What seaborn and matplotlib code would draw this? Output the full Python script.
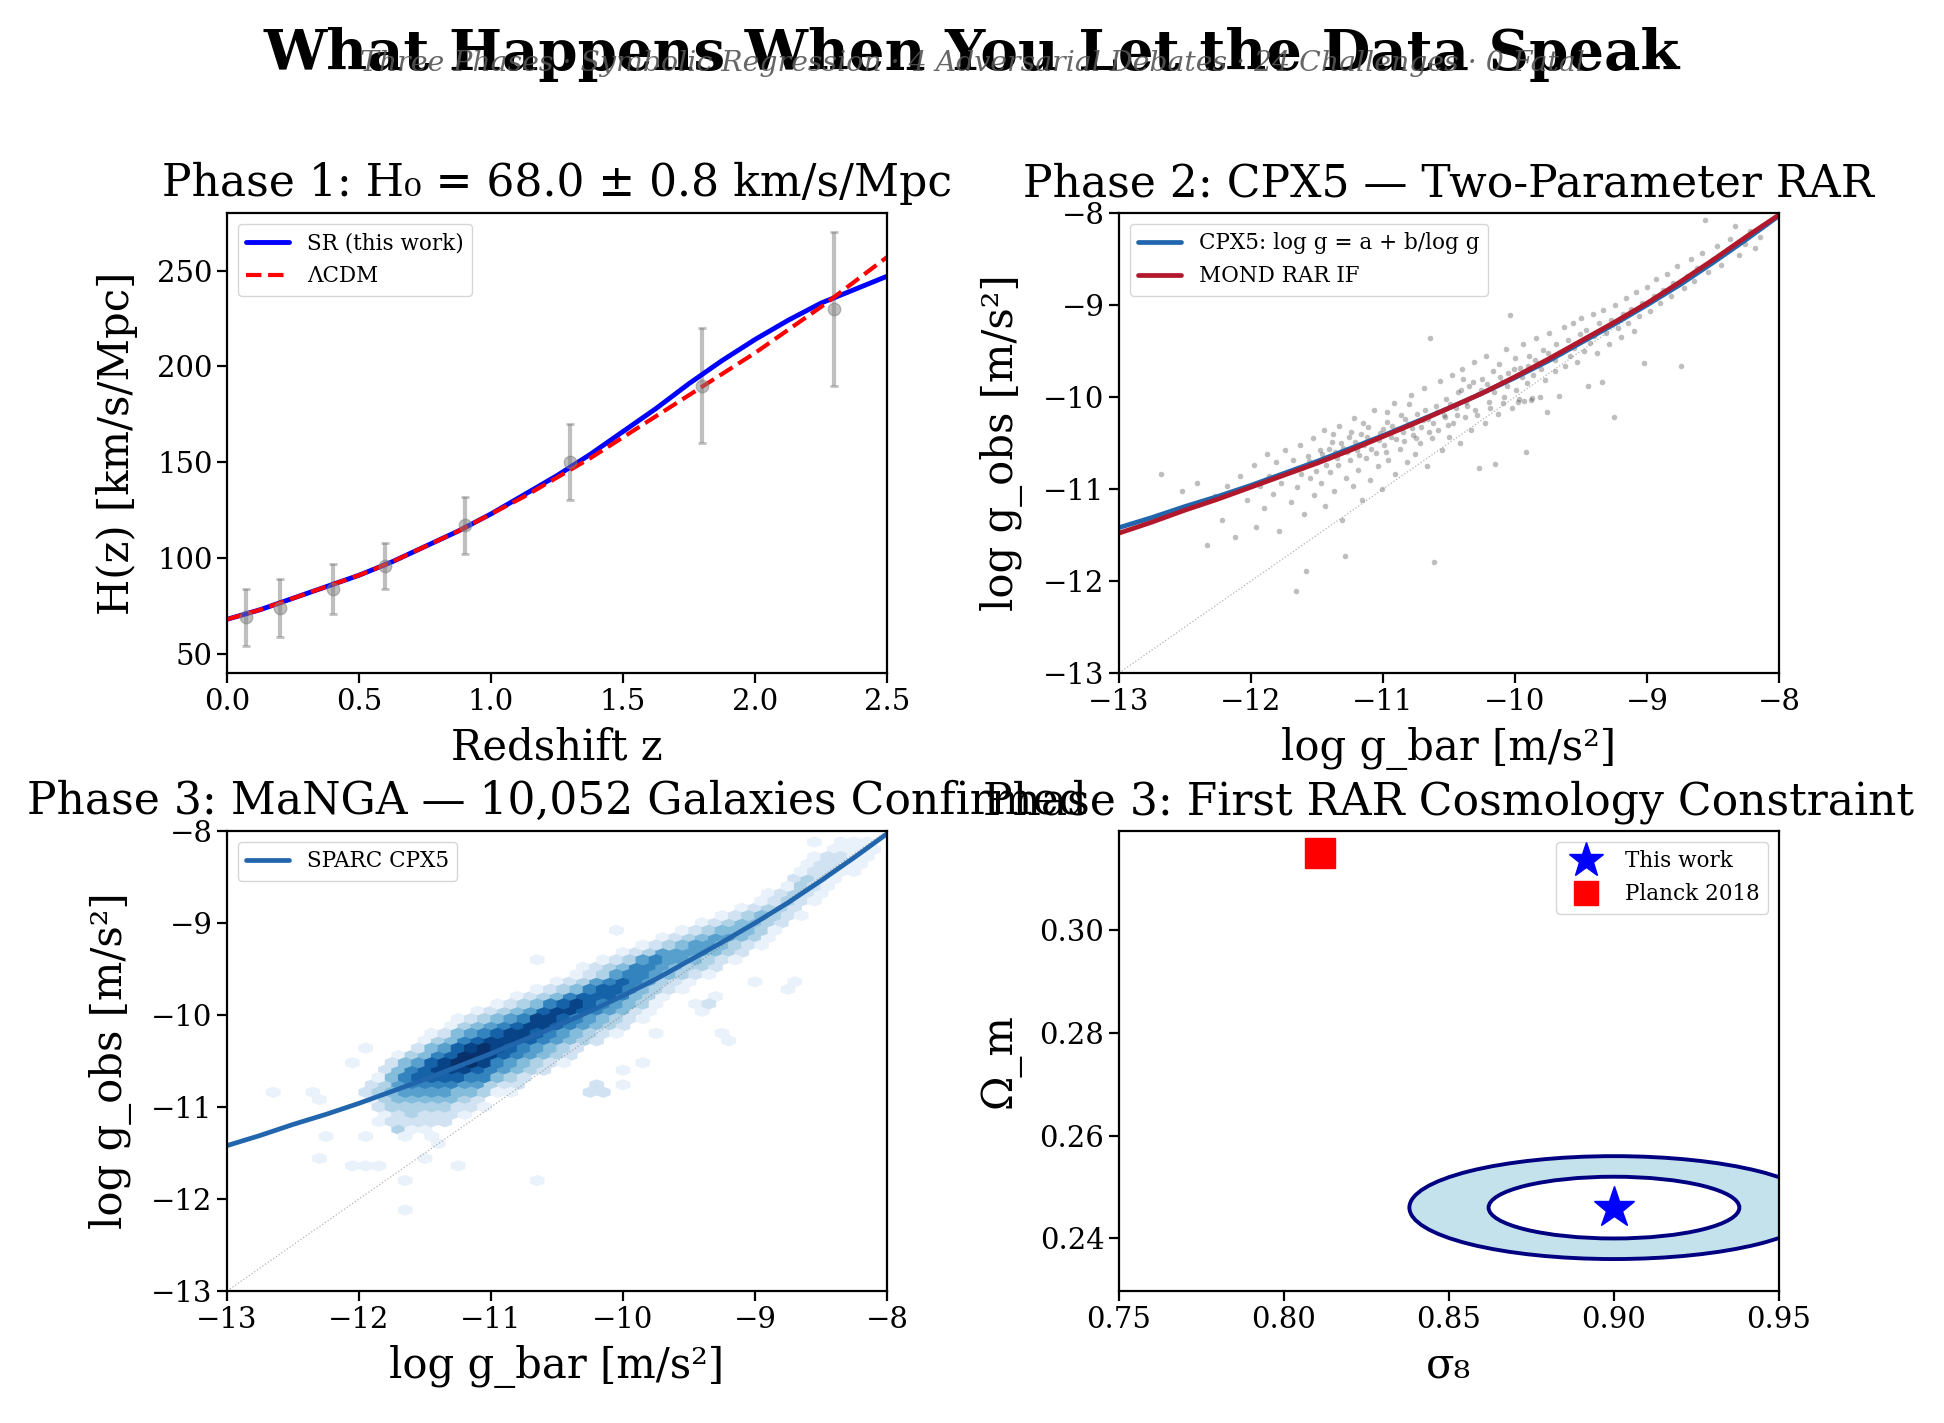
import numpy as np
import seaborn as sns
import matplotlib.pyplot as plt
from matplotlib.patches import Ellipse

# ---------- data ----------
# Phase 1: cosmic chronometer points and the two H(z) curves
hz_z = [0.07, 0.2, 0.4, 0.6, 0.9, 1.3, 1.8, 2.3]
hz_val = [69, 74, 84, 96, 117, 150, 190, 230]
hz_err = [15, 15, 13, 12, 15, 20, 30, 40]

curve_z = [0, 0.125, 0.25, 0.375, 0.5, 0.625, 0.75, 0.875, 1.0, 1.125, 1.25,
           1.375, 1.5, 1.625, 1.75, 1.875, 2.0, 2.125, 2.25, 2.375, 2.5]
sr_h = [68, 73, 79, 85, 91, 98, 106, 114, 123, 133, 143,
        154, 166, 178, 191, 203, 214, 224, 233, 240, 247]
lcdm_h = [68, 73, 79, 85, 91, 98, 106, 114, 123, 132, 142,
          152, 163, 174, 185, 196, 207, 219, 231, 244, 257]

# Phase 2: RAR curves
gbar_grid = [-13, -12.75, -12.5, -12.25, -12, -11.75, -11.5, -11.25, -11, -10.75, -10.5,
             -10.25, -10, -9.75, -9.5, -9.25, -9, -8.75, -8.5, -8.25, -8]
cpx5_gobs = [-11.42, -11.31, -11.19, -11.08, -10.96, -10.83, -10.70, -10.56, -10.42, -10.27, -10.12,
             -9.96, -9.79, -9.61, -9.41, -9.21, -9.00, -8.78, -8.54, -8.29, -8.03]
mond_gobs = [-11.48, -11.36, -11.23, -11.11, -10.98, -10.85, -10.72, -10.58, -10.43, -10.28, -10.12,
             -9.96, -9.78, -9.59, -9.39, -9.19, -8.98, -8.75, -8.51, -8.26, -8.02]

# SPARC points (approximate positions of the grey cloud)
sparc_points = [
    (-12.68, -10.84), (-12.52, -11.02), (-12.41, -10.93), (-12.33, -11.61), (-12.27, -11.08),
    (-12.22, -11.34), (-12.18, -10.97), (-12.12, -11.52), (-12.08, -10.86), (-12.03, -11.12),
    (-11.98, -10.74), (-11.96, -11.41), (-11.93, -10.97), (-11.90, -11.21), (-11.88, -10.62),
    (-11.86, -10.86), (-11.83, -11.05), (-11.81, -10.71), (-11.79, -11.46), (-11.77, -10.93),
    (-11.74, -10.58), (-11.72, -10.81), (-11.70, -11.14), (-11.68, -10.69), (-11.66, -12.11),
    (-11.65, -10.98), (-11.63, -10.52), (-11.61, -10.77), (-11.60, -11.27), (-11.58, -11.89),
    (-11.57, -10.64), (-11.55, -10.88), (-11.53, -10.45), (-11.52, -11.06), (-11.50, -10.71),
    (-11.48, -10.58), (-11.47, -10.93), (-11.45, -10.36), (-11.44, -11.18), (-11.42, -10.66),
    (-11.40, -10.82), (-11.39, -10.49), (-11.37, -11.02), (-11.36, -10.60), (-11.34, -10.74),
    (-11.33, -10.31), (-11.31, -11.34), (-11.30, -10.55), (-11.29, -11.73), (-11.28, -10.88),
    (-11.26, -10.44), (-11.25, -10.68), (-11.23, -10.97), (-11.22, -10.23), (-11.20, -10.58),
    (-11.19, -10.79), (-11.17, -10.40), (-11.16, -11.12), (-11.14, -10.52), (-11.13, -10.66),
    (-11.11, -10.33), (-11.10, -10.90), (-11.08, -10.47), (-11.07, -10.14), (-11.05, -10.61),
    (-11.04, -10.75), (-11.02, -10.39), (-11.01, -11.00), (-10.99, -10.52), (-10.97, -10.27),
    (-10.96, -10.68), (-10.94, -10.43), (-10.92, -10.06), (-10.91, -10.84), (-10.89, -10.35),
    (-10.87, -10.57), (-10.86, -10.20), (-10.84, -10.48), (-10.82, -10.71), (-10.81, -10.29),
    (-10.79, -9.98), (-10.77, -10.41), (-10.76, -10.62), (-10.74, -10.18), (-10.72, -10.50),
    (-10.71, -10.33), (-10.69, -9.90), (-10.67, -10.75), (-10.66, -10.24), (-10.64, -9.36),
    (-10.63, -10.45), (-10.61, -11.79), (-10.60, -10.10), (-10.58, -10.36), (-10.57, -9.83),
    (-10.55, -10.58), (-10.54, -10.20), (-10.52, -10.02), (-10.50, -10.43), (-10.48, -9.76),
    (-10.47, -10.28), (-10.45, -10.12), (-10.43, -9.95), (-10.42, -10.50), (-10.40, -9.70),
    (-10.38, -10.22), (-10.37, -10.05), (-10.35, -9.88), (-10.33, -10.36), (-10.31, -9.62),
    (-10.30, -10.14), (-10.28, -9.97), (-10.27, -10.77), (-10.25, -9.80), (-10.23, -10.28),
    (-10.22, -9.55), (-10.20, -10.05), (-10.18, -9.90), (-10.17, -9.72), (-10.15, -10.73),
    (-10.13, -10.18), (-10.12, -9.64), (-10.10, -9.84), (-10.08, -10.00), (-10.07, -9.48),
    (-10.05, -9.74), (-10.04, -9.11), (-10.02, -10.12), (-10.00, -9.58), (-9.99, -9.92),
    (-9.97, -10.02), (-9.96, -9.68), (-9.94, -9.42), (-9.92, -10.60), (-9.91, -9.85),
    (-9.89, -9.55), (-9.87, -10.01), (-9.86, -9.76), (-9.84, -9.36), (-9.82, -9.63),
    (-9.81, -10.00), (-9.79, -9.49), (-9.77, -9.82), (-9.76, -10.16), (-9.74, -9.30),
    (-9.72, -9.58), (-9.70, -9.72), (-9.69, -9.42), (-9.67, -9.99), (-9.65, -9.52),
    (-9.63, -9.24), (-9.62, -9.66), (-9.60, -9.38), (-9.58, -9.55), (-9.56, -9.20),
    (-9.55, -9.47), (-9.53, -9.62), (-9.51, -9.32), (-9.50, -9.14), (-9.48, -9.50),
    (-9.46, -9.27), (-9.45, -9.88), (-9.43, -9.41), (-9.41, -9.10), (-9.40, -9.34),
    (-9.38, -9.52), (-9.36, -9.20), (-9.34, -9.84), (-9.33, -9.05), (-9.31, -9.30),
    (-9.29, -9.42), (-9.27, -9.16), (-9.25, -10.22), (-9.24, -9.00), (-9.22, -9.25),
    (-9.20, -9.35), (-9.18, -9.10), (-9.16, -8.92), (-9.14, -9.20), (-9.12, -9.04),
    (-9.10, -9.28), (-9.08, -8.86), (-9.06, -9.12), (-9.04, -8.98), (-9.02, -9.63),
    (-9.00, -8.80), (-8.98, -9.06), (-8.95, -8.90), (-8.93, -8.72), (-8.90, -8.98),
    (-8.88, -8.84), (-8.85, -8.66), (-8.82, -8.90), (-8.80, -8.76), (-8.77, -8.58),
    (-8.74, -9.66), (-8.72, -8.82), (-8.70, -8.68), (-8.67, -8.50), (-8.64, -8.74),
    (-8.62, -8.60), (-8.58, -8.44), (-8.56, -8.08), (-8.54, -8.64), (-8.50, -8.50),
    (-8.47, -8.36), (-8.44, -8.56), (-8.40, -8.42), (-8.37, -8.28), (-8.33, -8.14),
    (-8.30, -8.46), (-8.26, -8.34), (-8.22, -8.20), (-8.18, -8.38), (-8.14, -8.26),
    (-8.10, -8.12),
    (-11.46, -10.62), (-11.41, -10.57), (-11.35, -10.66), (-11.32, -10.50), (-11.27, -10.60),
    (-11.21, -10.49), (-11.18, -10.63), (-11.12, -10.44), (-11.09, -10.56), (-11.03, -10.47),
    (-11.00, -10.35), (-10.98, -10.60), (-10.93, -10.32), (-10.90, -10.46), (-10.85, -10.38),
    (-10.83, -10.24), (-10.78, -10.34), (-10.75, -10.45), (-10.70, -10.25), (-10.68, -10.14),
    (-10.62, -10.28), (-10.59, -10.16), (-10.53, -10.22), (-10.49, -10.08), (-10.44, -10.20),
    (-10.41, -9.92), (-10.36, -10.10), (-10.32, -9.84), (-10.26, -9.92), (-10.21, -9.86),
    (-10.16, -9.95), (-10.11, -9.78), (-10.06, -9.88), (-10.01, -9.70), (-9.95, -9.78),
    (-9.90, -9.66), (-9.85, -9.60), (-9.80, -9.70), (-9.75, -9.52), (-9.70, -9.60),
    (-11.56, -10.70), (-11.62, -10.84), (-11.51, -10.80), (-11.43, -10.74), (-11.38, -10.40),
    (-11.24, -10.38), (-11.15, -10.28), (-10.97, -10.16), (-10.80, -10.08), (-10.65, -10.38),
    (-10.51, -10.30), (-10.39, -9.80), (-10.29, -10.20), (-10.19, -10.12), (-10.09, -10.06),
    (-9.98, -10.05), (-9.93, -10.04), (-9.88, -10.03),
]

# Phase 3: MaNGA hexbin cells -> (column x, top cell y, shade level per cell going down, '.' = empty)
manga_columns = [
    (-12.65, -10.84, "1"), (-12.35, -10.84, "1"), (-12.30, -10.92, "1...1"),
    (-12.25, -11.32, "1"), (-12.05, -10.52, "1......1"), (-11.95, -10.36, "1..2..1.1"),
    (-11.90, -10.76, "21"), (-11.85, -10.68, "1321..1"), (-11.80, -10.60, "2331"),
    (-11.75, -10.52, "24432"), (-11.70, -10.44, "145423"), (-11.65, -10.52, "465321..1.1"),
    (-11.60, -10.44, "366431"), (-11.55, -10.36, "257532"), (-11.50, -10.28, "1476421.1"),
    (-11.45, -10.20, "14775321"), (-11.40, -10.28, "368642.1"), (-11.35, -10.20, "2587532"),
    (-11.30, -10.12, "1478642"), (-11.25, -10.04, "1479742...1"), (-11.20, -10.12, "3698531"),
    (-11.15, -10.04, "2589642"), (-11.10, -9.96, "1479752"), (-11.05, -10.04, "3698631"),
    (-11.00, -9.96, "258863"), (-10.95, -9.88, "1478641"), (-10.90, -9.96, "368752"),
    (-10.85, -9.88, "2587531"), (-10.80, -9.80, "1478642"), (-10.75, -9.88, "368642"),
    (-10.70, -9.80, "258753"), (-10.65, -9.40, "1.148753.......1"), (-10.60, -9.80, "378642"),
    (-10.55, -9.72, "268642"), (-10.50, -9.64, "148753"), (-10.45, -9.72, "377531"),
    (-10.40, -9.64, "268642"), (-10.35, -9.56, "148642"), (-10.30, -9.48, "137753"),
    (-10.25, -9.56, "26753...2"), (-10.20, -9.48, "257642..2"), (-10.15, -9.40, "137642...2"),
    (-10.10, -9.48, "36753"), (-10.05, -9.08, "1.257531"), (-10.00, -9.32, "147642..11"),
    (-9.95, -9.40, "36642"), (-9.90, -9.32, "26642"), (-9.85, -9.24, "156431..1"),
    (-9.80, -9.32, "36531"), (-9.75, -9.24, "26531.1"), (-9.70, -9.16, "15531"),
    (-9.65, -9.24, "3542"), (-9.60, -9.16, "2542"), (-9.55, -9.08, "14531"),
    (-9.50, -9.16, "3531"), (-9.45, -9.08, "2542.1"), (-9.40, -9.00, "1453..1"),
    (-9.35, -9.08, "3531.2"), (-9.30, -9.00, "2542.1"), (-9.25, -8.92, "1442....1"),
    (-9.20, -9.00, "353.....1"), (-9.15, -8.92, "2431"), (-9.10, -8.84, "1442"),
    (-9.05, -8.92, "342"), (-9.00, -8.84, "243..1"), (-8.95, -8.76, "1431"),
    (-8.90, -8.68, "1331"), (-8.85, -8.76, "231"), (-8.80, -8.68, "232"),
    (-8.75, -8.60, "132....1"), (-8.70, -8.52, "232....1"), (-8.65, -8.44, "1321"),
    (-8.60, -8.36, "132"), (-8.55, -8.12, "11221"), (-8.50, -8.36, "221"),
    (-8.45, -8.28, "221"), (-8.40, -8.20, "121"), (-8.35, -8.12, "121"),
    (-8.30, -8.20, "11"), (-8.25, -8.12, "111"), (-8.20, -8.20, "11"),
    (-8.15, -8.12, "11"), (-8.10, -8.20, "1"),
]

# Phase 3b: cosmology constraint
this_work = (0.90, 0.246)
planck = (0.811, 0.315)
ellipse_1sig = (0.076, 0.012)   # full width, full height
ellipse_2sig = (0.124, 0.020)

# ---------- style ----------
sns.set_style("ticks")
plt.rcParams['font.family'] = ['DejaVu Serif', 'DejaVu Sans']
plt.rcParams['axes.unicode_minus'] = True
plt.rcParams['axes.linewidth'] = 1.6
plt.rcParams['text.color'] = 'black'
plt.rcParams['axes.labelcolor'] = 'black'
plt.rcParams['axes.edgecolor'] = 'black'
for ax_name in ('xtick', 'ytick'):
    plt.rcParams[f'{ax_name}.major.size'] = 7
    plt.rcParams[f'{ax_name}.major.width'] = 1.6
    plt.rcParams[f'{ax_name}.labelsize'] = 21
    plt.rcParams[f'{ax_name}.color'] = 'black'
    plt.rcParams[f'{ax_name}.labelcolor'] = 'black'

TITLE_FS = 31.7
LABEL_FS = 30
LEG_FS = 15.5
TITLE_PAD = 12

fig, axes = plt.subplots(2, 2, figsize=(19.44, 14.23), dpi=100)
fig.subplots_adjust(left=0.1168, right=0.9151, bottom=0.0928, top=0.8503,
                    wspace=0.3515, hspace=0.3435)
ax1, ax2, ax3, ax4 = axes.flat

# ---------- Phase 1 ----------
ax1.errorbar(hz_z, hz_val, yerr=hz_err, fmt='o', color='gray', alpha=0.5,
             markersize=9, elinewidth=3, capsize=3, capthick=2)
sns.lineplot(x=curve_z, y=sr_h, ax=ax1, color='blue', lw=3.5, label='SR (this work)')
sns.lineplot(x=curve_z, y=lcdm_h, ax=ax1, color='red', lw=3, linestyle='--', label='ΛCDM')
ax1.set_xlim(0, 2.5)
ax1.set_ylim(40, 280)
ax1.set_xticks([0.0, 0.5, 1.0, 1.5, 2.0, 2.5])
ax1.set_yticks([50, 100, 150, 200, 250])
ax1.set_title('Phase 1: H₀ = 68.0 ± 0.8 km/s/Mpc', fontsize=TITLE_FS, pad=TITLE_PAD)
ax1.set_xlabel('Redshift z', fontsize=LABEL_FS, labelpad=8)
ax1.set_ylabel('H(z) [km/s/Mpc]', fontsize=LABEL_FS, labelpad=14)
ax1.legend(loc='upper left', fontsize=LEG_FS)

# ---------- Phase 2 ----------
px = [p[0] for p in sparc_points]
py = [p[1] for p in sparc_points]
sns.scatterplot(x=px, y=py, ax=ax2, color='#3a3a3a', s=16, alpha=0.33, linewidth=0)
ax2.plot([-13, -8], [-13, -8], ':', color='gray', lw=0.9, alpha=0.6)
sns.lineplot(x=gbar_grid, y=cpx5_gobs, ax=ax2, color='#2166ac', lw=3.4,
             label='CPX5: log g = a + b/log g')
sns.lineplot(x=gbar_grid, y=mond_gobs, ax=ax2, color='#b2182b', lw=3.4, label='MOND RAR IF')
ax2.set_xlim(-13, -8)
ax2.set_ylim(-13, -8)
ax2.set_xticks(range(-13, -7))
ax2.set_yticks(range(-13, -7))
ax2.set_title('Phase 2: CPX5 — Two-Parameter RAR', fontsize=TITLE_FS, pad=TITLE_PAD)
ax2.set_xlabel('log g_bar [m/s²]', fontsize=LABEL_FS, labelpad=8)
ax2.set_ylabel('log g_obs [m/s²]', fontsize=LABEL_FS, labelpad=14)
ax2.legend(loc='upper left', fontsize=LEG_FS)

# ---------- Phase 3: MaNGA ----------
hx, hy, hc = [], [], []
for x0, ytop, levels in manga_columns:
    for m, ch in enumerate(levels):
        if ch != '.':
            hx.append(x0)
            hy.append(ytop - 0.16 * m)
            hc.append(int(ch))
ax3.hexbin(hx, hy, C=hc, gridsize=(50, 31), extent=(-13, -8, -13, -8.04),
           reduce_C_function=np.max, cmap='Blues', vmin=0.4, vmax=8.6)
ax3.plot([-13, -8], [-13, -8], ':', color='gray', lw=0.9, alpha=0.6)
sns.lineplot(x=gbar_grid, y=cpx5_gobs, ax=ax3, color='#2166ac', lw=3.4, label='SPARC CPX5')
ax3.set_xlim(-13, -8)
ax3.set_ylim(-13, -8)
ax3.set_xticks(range(-13, -7))
ax3.set_yticks(range(-13, -7))
ax3.set_title('Phase 3: MaNGA — 10,052 Galaxies Confirmed', fontsize=TITLE_FS, pad=TITLE_PAD)
ax3.set_xlabel('log g_bar [m/s²]', fontsize=LABEL_FS, labelpad=8)
ax3.set_ylabel('log g_obs [m/s²]', fontsize=LABEL_FS, labelpad=14)
ax3.legend(loc='upper left', fontsize=LEG_FS)

# ---------- Phase 3: cosmology ----------
ax4.add_patch(Ellipse(this_work, ellipse_2sig[0], ellipse_2sig[1],
                      facecolor='#c4e2ec', edgecolor='navy', lw=2.8))
ax4.add_patch(Ellipse(this_work, ellipse_1sig[0], ellipse_1sig[1],
                      facecolor='white', edgecolor='navy', lw=2.8))
ax4.plot(*this_work, marker='*', color='blue', markersize=31, linestyle='none', label='This work')
ax4.plot(*planck, marker='s', color='red', markersize=21, linestyle='none', label='Planck 2018')
ax4.set_xlim(0.75, 0.95)
ax4.set_ylim(0.2298, 0.3192)
ax4.set_xticks([0.75, 0.80, 0.85, 0.90, 0.95])
ax4.set_yticks([0.24, 0.26, 0.28, 0.30])
ax4.set_title('Phase 3: First RAR Cosmology Constraint', fontsize=TITLE_FS, pad=TITLE_PAD)
ax4.set_xlabel('σ₈', fontsize=LABEL_FS, labelpad=8)
ax4.set_ylabel('Ω_m', fontsize=LABEL_FS, labelpad=14)
ax4.legend(loc='upper right', fontsize=LEG_FS, markerscale=0.85)

# ---------- titles ----------
fig.text(0.5, 0.962, 'What Happens When You Let the Data Speak', ha='center', va='center',
         fontsize=40.5, fontweight='bold', color='black')
fig.text(0.5, 0.9557,
         'Three Phases · Symbolic Regression · 4 Adversarial Debates · 24 Challenges · 0 Fatal',
         ha='center', va='center', fontsize=20.4, style='italic', color='#555555', alpha=0.9)

fig.savefig('out.png', dpi=100)
